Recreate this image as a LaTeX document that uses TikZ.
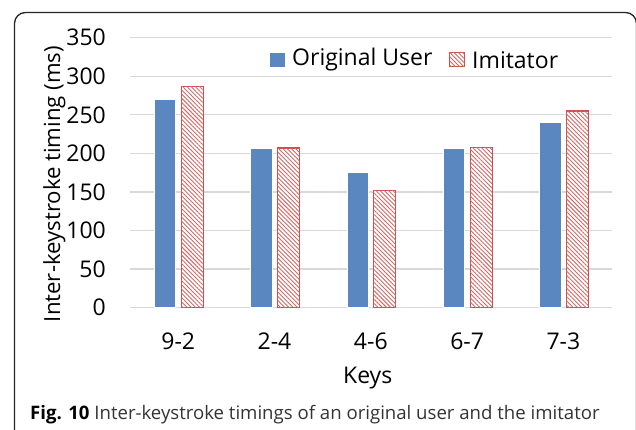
\documentclass[tikz,border=0pt]{standalone}
\usepackage{fontspec}
\setmainfont{Open Sans}
\usetikzlibrary{patterns.meta}
\definecolor{userblue}{HTML}{5B87C1}
\definecolor{imired}{HTML}{C9504C}
\definecolor{gridgray}{HTML}{D9D9D9}

\begin{document}
\begin{tikzpicture}[x=1pt,y=1pt,
  grid/.style={gridgray,line width=1.3pt},
  userbar/.style={fill=userblue,draw=white,line width=0.6pt},
  imibar/.style={draw=imired,line width=1.1pt,fill=white,
    postaction={pattern={Lines[angle=-45,distance=3pt,line width=0.9pt]},pattern color=imired!85}},
  tick/.style={font=\fontsize{23}{27}\selectfont,inner sep=0pt}]
\useasboundingbox (0,0) rectangle (636,430);
%%%%%%%%% frame
\draw [line width=1.3pt,color=black!85,rounded corners=11pt] (14.5,-5) -- (14.5,417.5) -- (636.5,417.5) -- (636.5,-5);
%%%%%%%%% plot
\begin{scope}[shift={(0,122.3)},y=0.7714pt]
\draw [grid] (130,0) -- (611.7,0);
\draw [grid] (130,50) -- (611.7,50);
\draw [grid] (130,100) -- (611.7,100);
\draw [grid] (130,150) -- (611.7,150);
\draw [grid] (130,200) -- (611.7,200);
\draw [grid] (130,250) -- (611.7,250);
\draw [grid] (130,300) -- (611.7,300);
\draw [grid] (130,350) -- (611.7,350);
\node [tick,anchor=east] (t0) at (106,0) {0};
\node [tick,anchor=east] (t50) at (106,50) {50};
\node [tick,anchor=east] (t100) at (106,100) {100};
\node [tick,anchor=east] (t150) at (106,150) {150};
\node [tick,anchor=east] (t200) at (106,200) {200};
\node [tick,anchor=east] (t250) at (106,250) {250};
\node [tick,anchor=east] (t300) at (106,300) {300};
\node [tick,anchor=east] (t350) at (106,350) {350};
% bars
\draw [userbar] (154.2,0) rectangle (175.7,270);
\draw [imibar] (181.2,0) rectangle (203.2,287);
\draw [userbar] (250.5,0) rectangle (272.0,207);
\draw [imibar] (277.5,0) rectangle (299.5,207);
\draw [userbar] (346.8,0) rectangle (368.3,176);
\draw [imibar] (373.8,0) rectangle (395.8,152);
\draw [userbar] (443.1,0) rectangle (464.6,207);
\draw [imibar] (470.1,0) rectangle (492.1,208);
\draw [userbar] (539.4,0) rectangle (560.9,240);
\draw [imibar] (566.4,0) rectangle (588.4,255);
\end{scope}
%%%%%%%%% keys
\node [tick,anchor=base] (k92) at (178.2,80) {9-2};
\node [tick,anchor=base] (k24) at (274.5,80) {2-4};
\node [tick,anchor=base] (k46) at (370.8,80) {4-6};
\node [tick,anchor=base] (k67) at (467.1,80) {6-7};
\node [tick,anchor=base] (k73) at (563.4,80) {7-3};
\node [tick,anchor=base] (keys) at (367.7,46) {Keys};
\node [tick,anchor=base,rotate=90,font=\fontsize{22.2}{26}\selectfont] (ylabel) at (60,246) {Inter-keystroke timing (ms)};
%%%%%%%%% legend
\fill [userblue] (270,363.3) rectangle (285,377.3);
\node [tick,anchor=west] (leguser) at (292,370) {Original User};
\draw [imibar,line width=0.9pt] (449.8,363.8) rectangle (464.3,377.3);
\node [tick,anchor=west] (legimi) at (472,370) {Imitator};
%%%%%%%%% caption
\node [anchor=base west,inner sep=0pt,font=\fontsize{18.6}{22}\selectfont] (caption) at (30,10)
  {\textbf{Fig. 10} \color{black!80}Inter-keystroke timings of an original user and the imitator};
\end{tikzpicture}
\end{document}
